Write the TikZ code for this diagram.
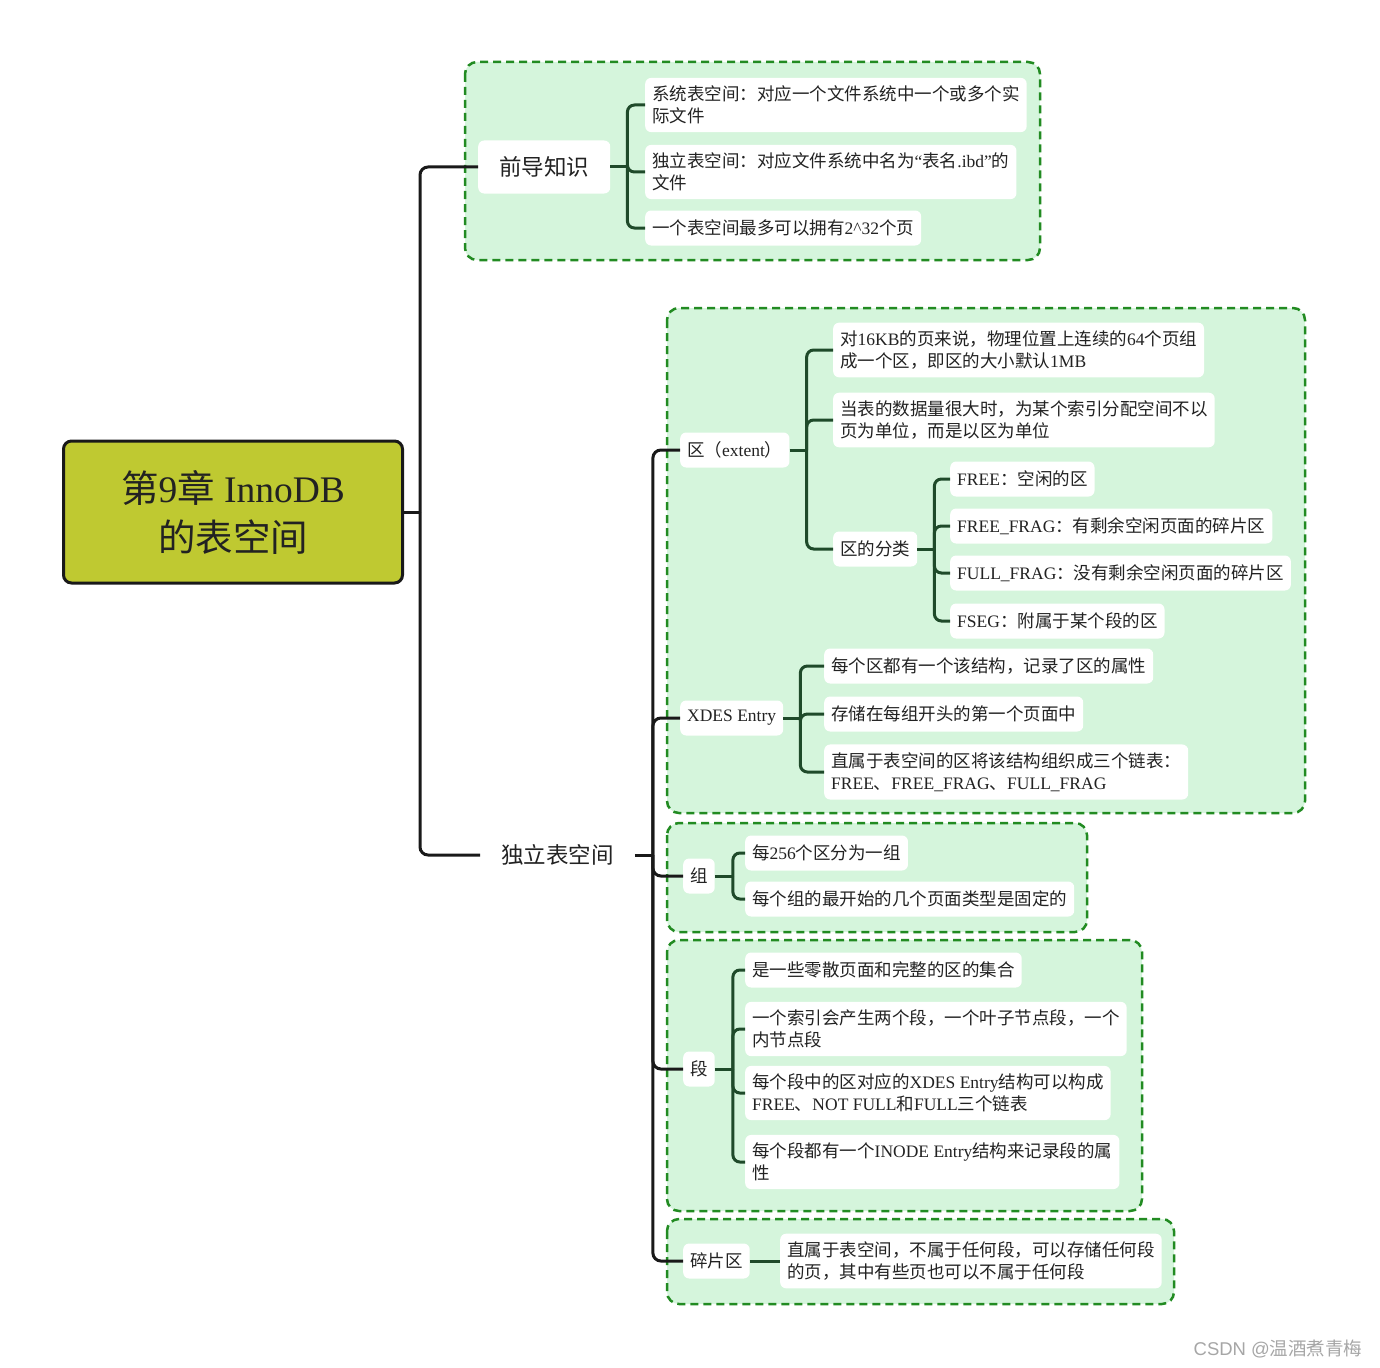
\documentclass[tikz,border=0pt]{standalone}
\usepackage{fontspec}
\usepackage{xcolor}
\usepackage{tikz}
\usetikzlibrary{positioning}
\setmainfont{Liberation Serif}
\setsansfont{Liberation Sans}
\newfontfamily\cjk{Noto Sans CJK SC}
% Chinese characters switch to the CJK font by themselves
\XeTeXinterchartokenstate=1
\newXeTeXintercharclass\cjkclass
\newcount\cjkcode
\newcommand\setcjkrange[2]{\cjkcode=#1\relax
  \loop\XeTeXcharclass\cjkcode=\cjkclass\relax
  \ifnum\cjkcode<#2\relax\advance\cjkcode by 1\relax\repeat}
\setcjkrange{"4E00}{"9FFF}
\setcjkrange{"3000}{"303F}
\setcjkrange{"FF00}{"FFEF}
\XeTeXinterchartoks 0 \cjkclass = {\cjk}
\XeTeXinterchartoks 4095 \cjkclass = {\cjk}
\XeTeXinterchartoks \cjkclass 0 = {\rmfamily}
\XeTeXinterchartoks \cjkclass 4095 = {\rmfamily}
\definecolor{rootgreen}{RGB}{191,201,49}
\definecolor{groupfill}{RGB}{213,245,220}
\definecolor{groupline}{RGB}{34,139,34}
\definecolor{twiggreen}{RGB}{31,74,42}
\definecolor{inktext}{RGB}{34,34,34}

\begin{document}
\begin{tikzpicture}[x=1pt, y=-1pt,
    rootbox/.style={draw=black!90, line width=3, fill=rootgreen, rounded corners=8,
      minimum width=339, minimum height=142, align=center, text=inktext,
      font=\fontsize{37.5}{49}\selectfont},
    topic/.style={fill=white, rounded corners=6, inner xsep=21, minimum height=53,
      anchor=west, text=inktext, font=\fontsize{22.5}{27}\selectfont},
    leaf/.style={fill=white, rounded corners=6, inner xsep=7, inner ysep=8,
      minimum height=35, align=left, anchor=west, text=inktext,
      font=\fontsize{17.5}{22}\selectfont},
    groupbox/.style={draw=groupline, dash pattern=on 8pt off 5pt, line width=2.5,
      fill=groupfill, rounded corners=12},
    trunk/.style={draw=black!90, line width=3, rounded corners=8},
    twig/.style={draw=twiggreen, line width=3, rounded corners=7}]
    \useasboundingbox (0,0) rectangle (1380,1367);

    % dashed groups
    \draw[groupbox] (465,62) rectangle (1040,260);
    \draw[groupbox] (667,308) rectangle (1305,813);
    \draw[groupbox] (667,823) rectangle (1087,932);
    \draw[groupbox] (667,940) rectangle (1142,1211);
    \draw[groupbox] (667,1219) rectangle (1174,1304);

    \node[rootbox] (root) at (233,512) {第9章 InnoDB\\的表空间};
    \node[topic] (pre) at (478,167) {前导知识};
    \node[topic] (ind) at (480,855) {独立表空间};

    \node[leaf] (c1) at (645,105) {系统表空间：对应一个文件系统中一个或多个实\\际文件};
    \node[leaf] (c2) at (645,172) {独立表空间：对应文件系统中名为“表名.ibd”的\\文件};
    \node[leaf] (c3) at (645,228) {一个表空间最多可以拥有2\textasciicircum32个页};

    \node[leaf] (ext) at (680,450) {区（extent）};
    \node[leaf] (e1) at (833,350) {对16KB的页来说，物理位置上连续的64个页组\\成一个区，即区的大小默认1MB};
    \node[leaf] (e2) at (833,420) {当表的数据量很大时，为某个索引分配空间不以\\页为单位，而是以区为单位};
    \node[leaf] (cls) at (833,549) {区的分类};
    \node[leaf] (f1) at (950,479) {FREE：空闲的区};
    \node[leaf] (f2) at (950,526) {FREE\_FRAG：有剩余空闲页面的碎片区};
    \node[leaf] (f3) at (950,573) {FULL\_FRAG：没有剩余空闲页面的碎片区};
    \node[leaf] (f4) at (950,621) {FSEG：附属于某个段的区};

    \node[leaf] (xdes) at (680,718) {XDES Entry};
    \node[leaf] (x1) at (824,666) {每个区都有一个该结构，记录了区的属性};
    \node[leaf] (x2) at (824,714) {存储在每组开头的第一个页面中};
    \node[leaf] (x3) at (824,772) {直属于表空间的区将该结构组织成三个链表：\\FREE、FREE\_FRAG、FULL\_FRAG};

    \node[leaf] (grp) at (683,876) {组};
    \node[leaf] (g1) at (745,853) {每256个区分为一组};
    \node[leaf] (g2) at (745,899) {每个组的最开始的几个页面类型是固定的};

    \node[leaf] (seg) at (683,1069) {段};
    \node[leaf] (s1) at (745,970) {是一些零散页面和完整的区的集合};
    \node[leaf] (s2) at (745,1029) {一个索引会产生两个段，一个叶子节点段，一个\\内节点段};
    \node[leaf] (s3) at (745,1093) {每个段中的区对应的XDES Entry结构可以构成\\FREE、NOT FULL和FULL三个链表};
    \node[leaf] (s4) at (745,1162) {每个段都有一个INODE Entry结构来记录段的属\\性};

    \node[leaf] (frag) at (683,1261) {碎片区};
    \node[leaf] (p1) at (780,1261) {直属于表空间，不属于任何段，可以存储任何段\\的页，其中有些页也可以不属于任何段};

    \node[font=\sffamily\fontsize{18.5}{22}\selectfont, text=black!35, anchor=east] (mark) at (1366,1349) {CSDN @温酒煮青梅};

    % connectors
    \coordinate[right=16pt of root] (rootbus);
    \draw[trunk] (root.east) -- (rootbus);
    \foreach \c in {pre,ind} \draw[trunk] (rootbus) |- (\c.west);

    \coordinate[right=17pt of pre] (prebus);
    \draw[twig] (pre.east) -- (prebus);
    \foreach \c in {c1,c2,c3} \draw[twig] (prebus) |- (\c.west);

    \coordinate[right=18pt of ind] (indbus);
    \draw[trunk] (ind.east) -- (indbus);
    \foreach \c in {ext,xdes,grp,seg,frag} \draw[trunk] (indbus) |- (\c.west);

    \coordinate[right=17pt of ext] (extbus);
    \draw[twig] (ext.east) -- (extbus);
    \foreach \c in {e1,e2,cls} \draw[twig] (extbus) |- (\c.west);

    \coordinate[right=17pt of cls] (clsbus);
    \draw[twig] (cls.east) -- (clsbus);
    \foreach \c in {f1,f2,f3,f4} \draw[twig] (clsbus) |- (\c.west);

    \coordinate[right=17pt of xdes] (xdesbus);
    \draw[twig] (xdes.east) -- (xdesbus);
    \foreach \c in {x1,x2,x3} \draw[twig] (xdesbus) |- (\c.west);

    \coordinate[right=18pt of grp] (grpbus);
    \draw[twig] (grp.east) -- (grpbus);
    \foreach \c in {g1,g2} \draw[twig] (grpbus) |- (\c.west);

    \coordinate[right=18pt of seg] (segbus);
    \draw[twig] (seg.east) -- (segbus);
    \foreach \c in {s1,s2,s3,s4} \draw[twig] (segbus) |- (\c.west);

    \draw[twig] (frag.east) -- (p1.west);
\end{tikzpicture}
\end{document}
